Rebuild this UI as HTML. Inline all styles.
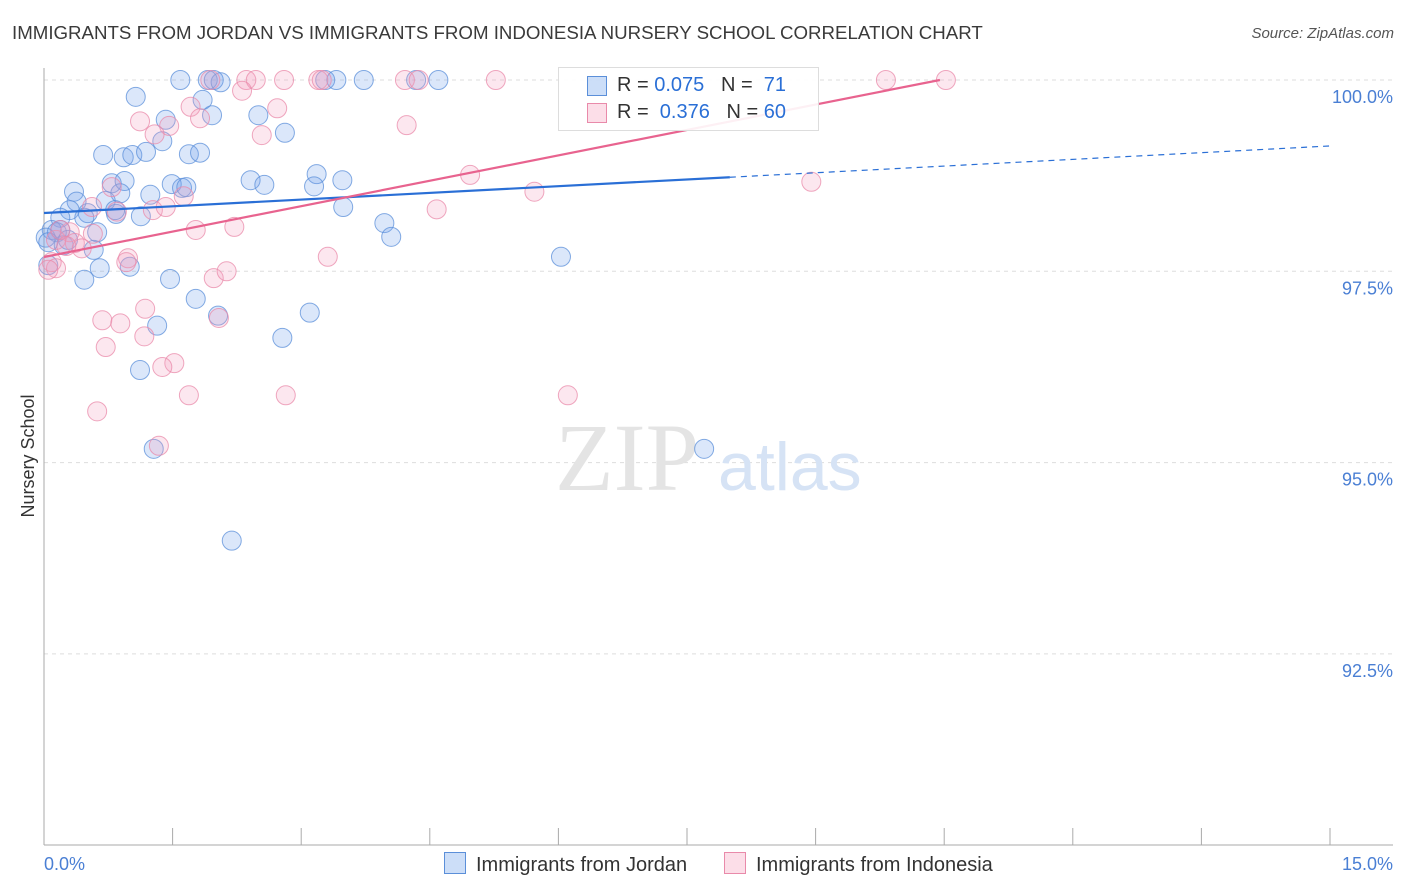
<!DOCTYPE html>
<html><head><meta charset="utf-8">
<style>
body{margin:0;background:#fff;font-family:"Liberation Sans",sans-serif;}
#wrap{position:relative;width:1406px;height:892px;overflow:hidden;}
.t{position:absolute;white-space:nowrap;}
</style></head>
<body>
<div id="wrap">
<div class="t" style="left:12px;top:22px;font-size:18.7px;color:#3a3a3a;">IMMIGRANTS FROM JORDAN VS IMMIGRANTS FROM INDONESIA NURSERY SCHOOL CORRELATION CHART</div>
<div class="t" style="right:12px;top:25px;font-size:15px;color:#555;font-style:italic;">Source: ZipAtlas.com</div>
<svg id="svg" width="1406" height="892" style="position:absolute;left:0;top:0"></svg>
</div>
<script>
const yTicks=[100,97.5,95,92.5];
const yTickLabels=["100.0%","97.5%","95.0%","92.5%"];
const xTickLabels=["0.0%","15.0%"];
const jordanX=[1.59,1.91,1.98,2.06,3.28,3.41,3.73,4.34,4.60,1.07,1.85,1.96,2.50,1.42,2.81,0.69,0.93,1.03,1.19,1.69,1.82,1.38,3.18,0.35,0.79,0.94,2.41,2.57,3.15,3.48,1.24,0.89,1.49,1.61,0.72,0.38,0.30,0.51,0.84,0.47,1.13,0.19,3.49,3.97,4.05,0.09,0.15,0.02,0.62,0.23,0.58,0.05,0.65,1.00,1.47,0.47,1.77,2.03,3.10,1.32,2.78,1.12,1.28,2.19,6.03,7.70,0.19,0.28,0.05,0.83,1.66];
const jordanY=[100,100,100,99.97,100,100,100,100,100,99.78,99.74,99.54,99.54,99.48,99.31,99.02,98.99,99.02,99.06,99.03,99.05,99.20,98.77,98.54,98.65,98.68,98.69,98.63,98.61,98.69,98.50,98.52,98.64,98.59,98.42,98.41,98.30,98.26,98.25,98.20,98.22,98.20,98.34,98.13,97.95,98.04,98.01,97.94,98.01,97.84,97.78,97.58,97.54,97.56,97.40,97.39,97.14,96.92,96.96,96.79,96.63,96.21,95.18,93.98,97.69,95.18,98.04,97.91,97.88,98.30,98.60];
const indoX=[1.94,2.36,2.47,2.80,3.20,3.24,4.21,4.37,5.27,9.82,10.52,2.31,1.71,2.72,1.12,1.46,1.82,1.29,2.54,4.23,4.97,5.72,8.95,0.79,1.63,1.27,1.42,0.56,4.58,0.85,2.22,1.77,0.57,0.30,3.31,0.98,0.96,1.98,2.13,0.36,0.44,0.14,0.09,0.14,1.18,0.68,0.89,2.04,1.17,0.72,1.52,1.38,1.69,2.82,6.11,0.62,1.34,0.19,0.05,0.26];
const indoY=[100,100,100,100,100,100,100,100,100,100,100,99.86,99.65,99.63,99.46,99.40,99.50,99.29,99.28,99.41,98.76,98.54,98.67,98.60,98.48,98.30,98.34,98.34,98.31,98.28,98.08,98.04,97.99,98.01,97.69,97.67,97.62,97.41,97.50,97.87,97.80,97.91,97.62,97.54,97.01,96.86,96.82,96.89,96.65,96.51,96.30,96.25,95.88,95.88,95.88,95.67,95.22,98.04,97.52,97.83];
const jordanLine=[98.262,99.138];
const jordanSolidEnd=8.0;
const indoLine=[97.687,100];
const indoEnd=10.45;

const NS="http://www.w3.org/2000/svg";
const svg=document.getElementById('svg');
const X=v=>44+v/15*1286;
const Y=v=>80+(100-v)/2.5*191.3;
function mk(tag,attrs,parent){const e=document.createElementNS(NS,tag);for(const k in attrs)e.setAttribute(k,attrs[k]);(parent||svg).appendChild(e);return e;}

yTicks.forEach((t,i)=>{
  const g=mk('line',{x1:44,x2:1393,y1:Y(t),y2:Y(t),stroke:'#ddd','stroke-dasharray':'4,4'});
  
  
  const tx=mk('text',{x:1393,y:Y(t)+23,'text-anchor':'end','font-size':18,fill:'#4a7fd4','font-family':'Liberation Sans'});
  tx.textContent=yTickLabels[i];
  
  
});
const ax=mk('line',{x1:44,x2:44,y1:68,y2:845,stroke:'#aaa'});


const bx=mk('line',{x1:44,x2:1393,y1:845,y2:845,stroke:'#aaa'});


for(let i=0;i<=10;i++){
  const tk=mk('line',{x1:X(i*1.5),x2:X(i*1.5),y1:828,y2:845,stroke:'#aaa'});
  
  
}
const xl0=mk('text',{x:44,y:870,'font-size':18,fill:'#4a7fd4','font-family':'Liberation Sans'});xl0.textContent=xTickLabels[0];


const xl1=mk('text',{x:1393,y:870,'text-anchor':'end','font-size':18,fill:'#4a7fd4','font-family':'Liberation Sans'});xl1.textContent=xTickLabels[1];


const yt=mk('text',{x:34,y:456,transform:'rotate(-90 34 456)','text-anchor':'middle','font-size':18,fill:'#333','font-family':'Liberation Sans'});yt.textContent='Nursery School';



const wm1=mk('text',{x:555,y:490,'font-size':96,fill:'#e4e4e4','font-family':'Liberation Serif'});wm1.textContent='ZIP';


const wm2=mk('text',{x:718,y:490,'font-size':68,fill:'#d6e3f5','font-family':'Liberation Sans'});wm2.textContent='atlas';



function pts(xs,ys,fill,stroke,name){
  xs.forEach((v,i)=>{
    const c=mk('circle',{cx:X(v),cy:Y(ys[i]),r:9.5,fill:fill,stroke:stroke,'stroke-width':1,'stroke-opacity':0.75});
    
    
  });
}
pts(jordanX,jordanY,'rgba(110,160,235,0.25)','#5b8fd9','jordan-point');
pts(indoX,indoY,'rgba(245,160,190,0.25)','#e98aaa','indonesia-point');

const jy=x=>jordanLine[0]+(jordanLine[1]-jordanLine[0])*x/15;
const l1=mk('line',{x1:X(0),y1:Y(jy(0)),x2:X(jordanSolidEnd),y2:Y(jy(jordanSolidEnd)),stroke:'#2a6fd6','stroke-width':2.2});


const l2=mk('line',{x1:X(jordanSolidEnd),y1:Y(jy(jordanSolidEnd)),x2:X(15),y2:Y(jy(15)),stroke:'#2a6fd6','stroke-width':1.2,'stroke-dasharray':'6,5'});


const l3=mk('line',{x1:X(0),y1:Y(indoLine[0]),x2:X(indoEnd),y2:Y(indoLine[1]),stroke:'#e8638f','stroke-width':2.2});


</script>

<div class="t" style="left:558px;top:67px;width:259px;height:62px;border:1px solid #ddd;background:rgba(255,255,255,0.9);font-size:20px;">
  <div style="position:absolute;left:28px;top:8px;width:18px;height:18px;background:rgba(110,160,235,0.35);border:1px solid #5b8fd9;"></div>
  <div class="t" style="left:58px;top:6px;color:#333;">R = <span style="color:#2a6fd6">0.075</span>&nbsp;&nbsp;&nbsp;N = <span style="color:#2a6fd6">&nbsp;71</span></div>
  <div style="position:absolute;left:28px;top:35px;width:18px;height:18px;background:rgba(245,160,190,0.35);border:1px solid #e98aaa;"></div>
  <div class="t" style="left:58px;top:33px;color:#333;">R = <span style="color:#2a6fd6">&nbsp;0.376</span>&nbsp;&nbsp;&nbsp;N = <span style="color:#2a6fd6">60</span></div>
</div>
<div class="t" style="left:444px;top:852px;font-size:20px;color:#333;">
  <span style="display:inline-block;width:20px;height:20px;background:rgba(110,160,235,0.35);border:1px solid #5b8fd9;vertical-align:-3px;margin-right:10px;"></span>Immigrants from Jordan</div>
<div class="t" style="left:724px;top:852px;font-size:20px;color:#333;">
  <span style="display:inline-block;width:20px;height:20px;background:rgba(245,160,190,0.35);border:1px solid #e98aaa;vertical-align:-3px;margin-right:10px;"></span>Immigrants from Indonesia</div>
</body></html>
